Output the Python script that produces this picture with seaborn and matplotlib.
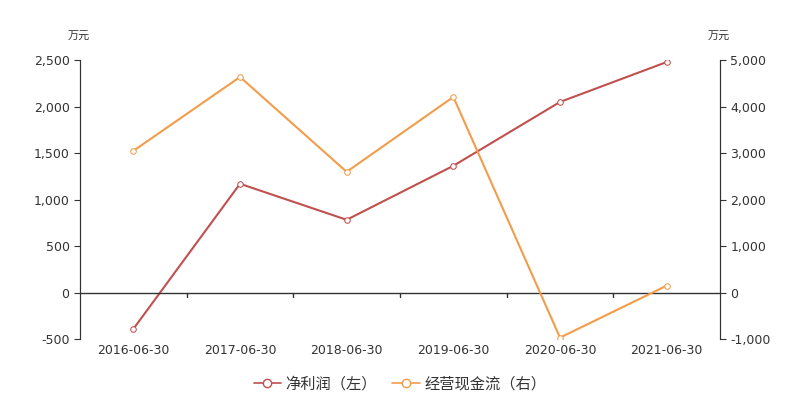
import matplotlib
matplotlib.use("Agg")
import matplotlib.pyplot as plt
import seaborn as sns
import pandas as pd

dates = ["2016-06-30", "2017-06-30", "2018-06-30", "2019-06-30", "2020-06-30", "2021-06-30"]
net_profit = [-390, 1170, 783, 1363, 2049, 2478]
cash_flow = [3047, 4635, 2597, 4206, -966, 150]

sns.set_style("white")
plt.rcParams['font.family'] = ['DejaVu Sans', 'Noto Sans CJK SC']

df = pd.DataFrame({"x": range(len(dates)), "np": net_profit, "cf": cash_flow})
fig = plt.figure(figsize=(8, 4), dpi=100)
ax = fig.add_axes([0.1, 0.152, 0.8, 0.698])
ax2 = ax.twinx()
red, orange = "#c0504d", "#f39c4a"
sns.lineplot(data=df, x="x", y="np", ax=ax, color=red, marker="o", markersize=4,
             markerfacecolor="white", markeredgecolor=red, lw=1.5)
sns.lineplot(data=df, x="x", y="cf", ax=ax2, color=orange, marker="o", markersize=4,
             markerfacecolor="white", markeredgecolor=orange, lw=1.5)
ax.set_xlim(-0.5, 5.5)
ax.set_ylim(-500, 2500)
ax2.set_ylim(-1000, 5000)
ax.set_yticks(range(-500, 2501, 500))
ax2.set_yticks(range(-1000, 5001, 1000))
ax.yaxis.set_major_formatter(matplotlib.ticker.FuncFormatter(lambda v, p: f"{int(v):,}"))
ax2.yaxis.set_major_formatter(matplotlib.ticker.FuncFormatter(lambda v, p: f"{int(v):,}"))
ax.set_xticks(range(len(dates)))
ax.set_xticklabels(dates)
ax.tick_params(axis="x", which="major", length=0, labelsize=9, colors="#333")
ax.tick_params(axis="y", length=4, labelsize=9, colors="#333")
ax2.tick_params(axis="y", length=4, labelsize=9, colors="#333")
ax.axhline(0, color="#333", lw=1)
for i in range(5):
    ax.plot([i + 0.5, i + 0.5], [0, -45], color="#333", lw=1, clip_on=False)
for a in (ax, ax2):
    a.set_xlabel(""); a.set_ylabel("")
    a.spines["top"].set_visible(False)
    a.spines["left"].set_color("#333"); a.spines["right"].set_color("#333")
    a.spines["bottom"].set_visible(False)
fig.text(0.085, 0.9, "万元", fontsize=8, ha="left", color="#333", family=['Noto Sans CJK SC'])
fig.text(0.885, 0.9, "万元", fontsize=8, ha="left", color="#333", family=['Noto Sans CJK SC'])
from matplotlib.lines import Line2D
h = [Line2D([], [], color=red, marker="o", markerfacecolor="white", markersize=6, lw=1.2),
     Line2D([], [], color=orange, marker="o", markerfacecolor="white", markersize=6, lw=1.2)]
fig.legend(h, ["净利润（左）", "经营现金流（右）"], loc="lower center", ncol=2,
           bbox_to_anchor=(0.5, -0.015), frameon=False, handlelength=1.8,
           labelcolor="#333", prop={"family": ['Noto Sans CJK SC'], "size": 11},
           handletextpad=0.3, columnspacing=1.0)
fig.savefig("out.png", dpi=100)
